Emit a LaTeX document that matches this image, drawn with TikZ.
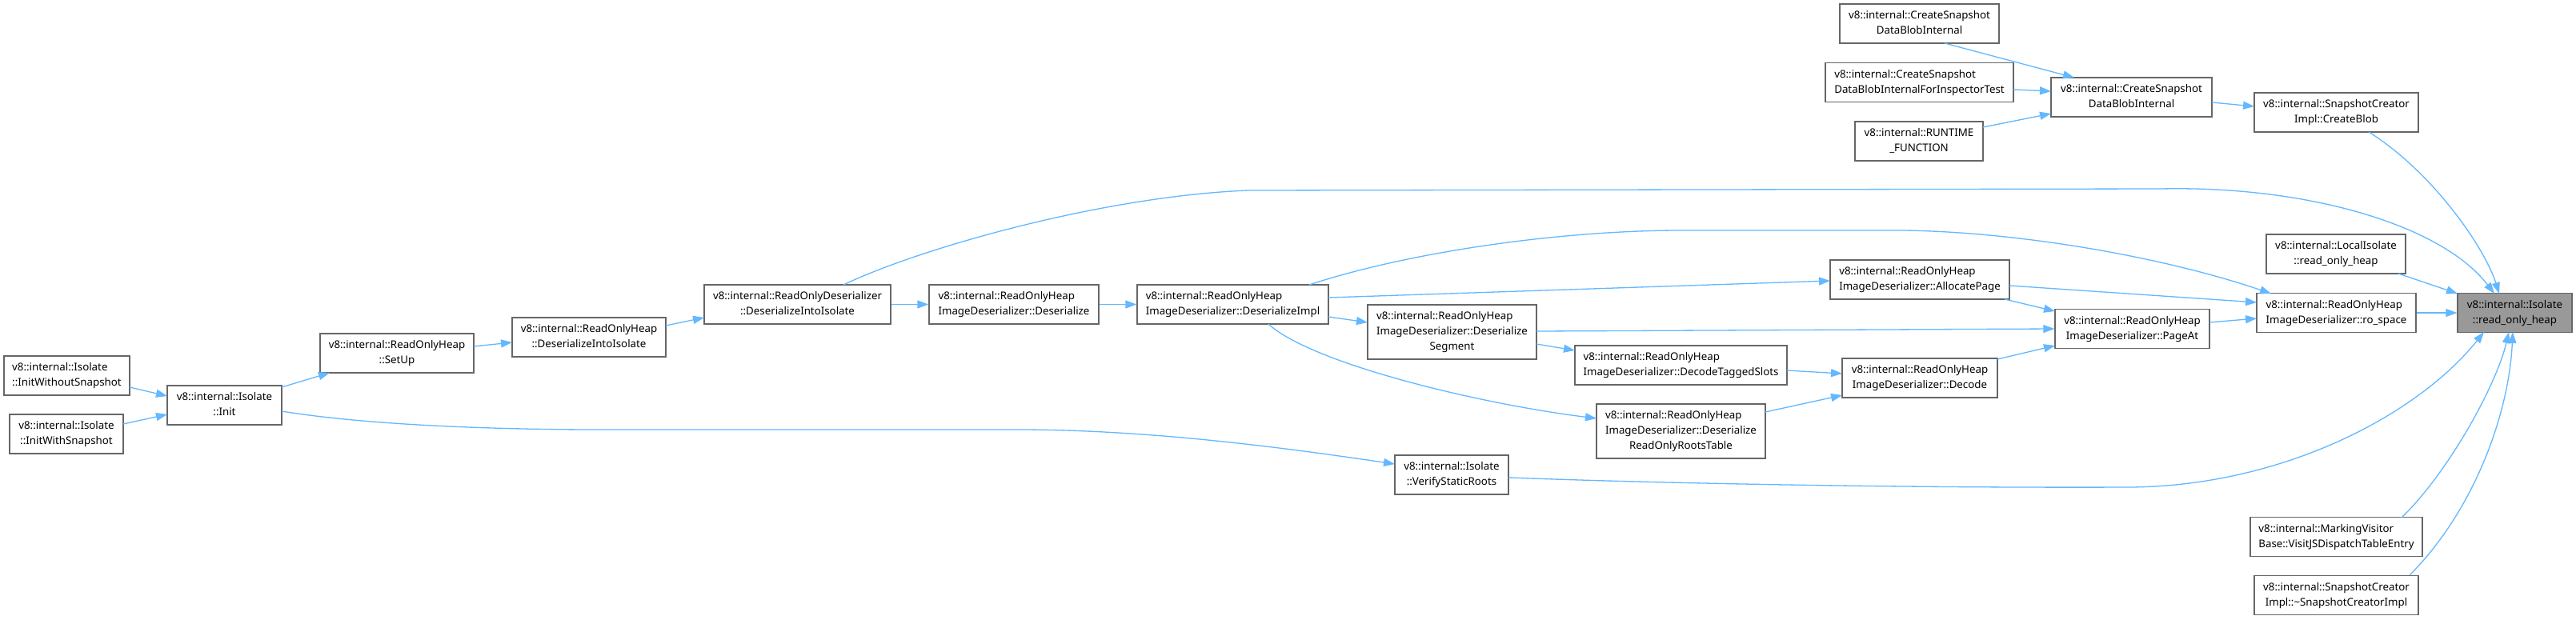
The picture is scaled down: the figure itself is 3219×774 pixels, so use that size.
\documentclass[tikz,border=0pt]{standalone}
\usepackage{fontspec}
\setmainfont{Noto Sans}
\usetikzlibrary{arrows.meta,calc}
\definecolor{edgec}{HTML}{63B8FF}
\definecolor{bordc}{HTML}{666666}
\definecolor{tgtc}{HTML}{999999}
\newcommand{\twol}[2]{\begin{tabular}{@{}l@{}}#1\\\multicolumn{1}{@{}c@{}}{#2}\end{tabular}}
\newcommand{\thrl}[3]{\begin{tabular}{@{}l@{}}#1\\#2\\\multicolumn{1}{@{}c@{}}{#3}\end{tabular}}
\begin{document}
\begin{tikzpicture}[x=1pt,y=-1pt,
  fn/.style={draw=bordc, line width=1.3pt, fill=white, inner sep=0pt, minimum height=49pt,
    font=\fontsize{13.3}{19}\selectfont},
  fnt/.style={fn, minimum height=68pt},
  tgt/.style={fn, fill=tgtc},
  edge/.style={draw=edgec, line width=1.3pt, -{Triangle[length=14pt,width=10pt]}}]
\fill[white] (0,0) rectangle (3219,774);
\useasboundingbox (0,0) rectangle (3219,774);

% nodes
\node[fn, minimum width=199pt] (A) at (2398.5,29.5) {\twol{v8::internal::CreateSnapshot}{DataBlobInternal}};
\node[fn, minimum width=235pt] (B) at (2398.5,103) {\twol{v8::internal::CreateSnapshot}{DataBlobInternalForInspectorTest}};
\node[fn, minimum width=160pt] (C) at (2398,176.5) {\twol{v8::internal::RUNTIME}{\_FUNCTION}};
\node[fn, minimum width=201pt] (D) at (2663.5,121.5) {\twol{v8::internal::CreateSnapshot}{DataBlobInternal}};
\node[fn, minimum width=205pt] (E) at (2919.5,140.5) {\twol{v8::internal::SnapshotCreator}{Impl::CreateBlob}};
\node[fn, minimum width=174pt] (F) at (2919,317.5) {\twol{v8::internal::LocalIsolate}{::read\_only\_heap}};
\node[fn, minimum width=224pt] (G) at (2399,349.5) {\twol{v8::internal::ReadOnlyHeap}{ImageDeserializer::AllocatePage}};
\node[fn, minimum width=199pt] (H) at (2919.5,391) {\twol{v8::internal::ReadOnlyHeap}{ImageDeserializer::ro\_space}};
\node[tgt, minimum width=143pt] (T) at (3142.5,391) {\twol{v8::internal::Isolate}{::read\_only\_heap}};
\node[fn, minimum width=193pt] (I) at (2664.5,411) {\twol{v8::internal::ReadOnlyHeap}{ImageDeserializer::PageAt}};
\node[fn, minimum width=194pt] (J) at (2399,472.5) {\twol{v8::internal::ReadOnlyHeap}{ImageDeserializer::Decode}};
\node[fn, minimum width=215pt] (K) at (2919.5,671) {\twol{v8::internal::MarkingVisitor}{Base::VisitJSDispatchTableEntry}};
\node[fn, minimum width=205pt] (L) at (2919.5,744) {\twol{v8::internal::SnapshotCreator}{Impl::\textasciitilde SnapshotCreatorImpl}};
\node[fn, minimum width=265pt] (O) at (2100.5,456.5) {\twol{v8::internal::ReadOnlyHeap}{ImageDeserializer::DecodeTaggedSlots}};
\node[fnt, minimum width=211pt] (P) at (2100.5,539) {\thrl{v8::internal::ReadOnlyHeap}{ImageDeserializer::Deserialize}{ReadOnlyRootsTable}};
\node[fnt, minimum width=211pt] (N) at (1814.5,415) {\thrl{v8::internal::ReadOnlyHeap}{ImageDeserializer::Deserialize}{Segment}};
\node[fn, minimum width=142pt] (Q) at (1814,593.5) {\twol{v8::internal::Isolate}{::VerifyStaticRoots}};
\node[fn, minimum width=239pt] (M) at (1540.5,380.5) {\twol{v8::internal::ReadOnlyHeap}{ImageDeserializer::DeserializeImpl}};
\node[fn, minimum width=212pt] (Y) at (1267,380.5) {\twol{v8::internal::ReadOnlyHeap}{ImageDeserializer::Deserialize}};
\node[fn, minimum width=233pt] (X) at (996.5,380.5) {\twol{v8::internal::ReadOnlyDeserializer}{::DeserializeIntoIsolate}};
\node[fn, minimum width=192pt] (W) at (736,421.5) {\twol{v8::internal::ReadOnlyHeap}{::DeserializeIntoIsolate}};
\node[fn, minimum width=192pt] (V) at (496,441.5) {\twol{v8::internal::ReadOnlyHeap}{::SetUp}};
\node[fn, minimum width=143pt] (U) at (280.5,506.5) {\twol{v8::internal::Isolate}{::Init}};
\node[fn, minimum width=157pt] (R) at (83.5,469.5) {\twol{v8::internal::Isolate}{::InitWithoutSnapshot}};
\node[fn, minimum width=142pt] (S) at (83,542.5) {\twol{v8::internal::Isolate}{::InitWithSnapshot}};

% edges
\draw[edge] ($(A)+(31.5,24.5)$) -- ($(D)+(-71.5,-24.5)$);
\draw[edge] ($(B)+(117.5,9)$) -- ($(D)+(-100.5,-7.5)$);
\draw[edge] ($(C)+(80,-17.5)$) -- ($(D)+(-100.5,20.5)$);
\draw[edge] ($(D)+(100.5,6.5)$) -- ($(E)+(-102.5,-7.5)$);
\draw[edge] ($(E)+(40.5,24.5)$) .. controls (3040,215) and (3105,310) .. ($(T)+(-19.5,-24)$);
\draw[edge] ($(X)+(57.5,-24.5)$) .. controls (1150,310) and (1380,245) .. (1560,238) -- (2700,236) .. controls (2880,232) and (3050,280) .. ($(T)+(-25.5,-24)$);
\draw[edge] ($(M)+(95.5,-24.5)$) .. controls (1760,315) and (1950,288) .. (2100,288) -- (2380,288) .. controls (2520,290) and (2700,320) .. ($(H)+(-81.5,-24)$);
\draw[edge] ($(F)+(78,24.5)$) -- ($(T)+(-71.5,-24)$);
\draw[edge] ($(G)+(112,7.5)$) -- ($(H)+(-99.5,-13)$);
\draw[edge] ($(G)+(106,24.5)$) -- ($(I)+(-96.5,-22)$);
\draw[edge] ($(I)+(96.5,-8)$) -- ($(H)+(-99.5,7)$);
\draw[edge] (H.east) -- (T.west);
\draw[edge] ($(M)+(119.5,-8.5)$) -- ($(G)+(-112,1.5)$);
\draw[edge] ($(M)+(119.5,15.5)$) -- ($(N)+(-105.5,-12)$);
\draw[edge] ($(M)+(44.5,24.5)$) .. controls (1640,455) and (1850,505) .. ($(P)+(-105.5,-16)$);
\draw[edge] ($(N)+(105.5,-1)$) -- (I.west);
\draw[edge] ($(N)+(105.5,15)$) -- ($(O)+(-132.5,-18.5)$);
\draw[edge] ($(O)+(132.5,6.5)$) -- ($(J)+(-97,-5.5)$);
\draw[edge] ($(P)+(105.5,-24)$) -- ($(J)+(-97,21.5)$);
\draw[edge] ($(J)+(97,-23.5)$) -- ($(I)+(-96.5,21)$);
\draw[edge] ($(Q)+(71,3.5)$) .. controls (2100,605) and (2400,610) .. (2660,609) .. controls (2850,608) and (3020,520) .. ($(T)+(-38.5,24)$);
\draw[edge] ($(U)+(71.5,7.5)$) .. controls (450,530) and (600,537) .. (750,537) -- (1280,537) .. controls (1450,538) and (1620,562) .. ($(Q)+(-71,-13.5)$);
\draw[edge] ($(U)+(71.5,-22.5)$) -- ($(V)+(-84,24.5)$);
\draw[edge] ($(V)+(96,-8.5)$) -- ($(W)+(-96,6.5)$);
\draw[edge] ($(W)+(96,-14.5)$) -- ($(X)+(-116.5,16.5)$);
\draw[edge] (X.east) -- (Y.west);
\draw[edge] (Y.east) -- (M.west);
\draw[edge] ($(R)+(78.5,14.5)$) -- ($(U)+(-71.5,-11.5)$);
\draw[edge] ($(S)+(71,-12.5)$) -- ($(U)+(-71.5,11.5)$);
\draw[edge] ($(K)+(81.5,-24)$) .. controls (3060,590) and (3120,480) .. ($(T)+(-7.5,24)$);
\draw[edge] ($(L)+(91.5,-25)$) .. controls (3090,640) and (3135,520) .. ($(T)+(-2.5,24)$);
\end{tikzpicture}
\end{document}
